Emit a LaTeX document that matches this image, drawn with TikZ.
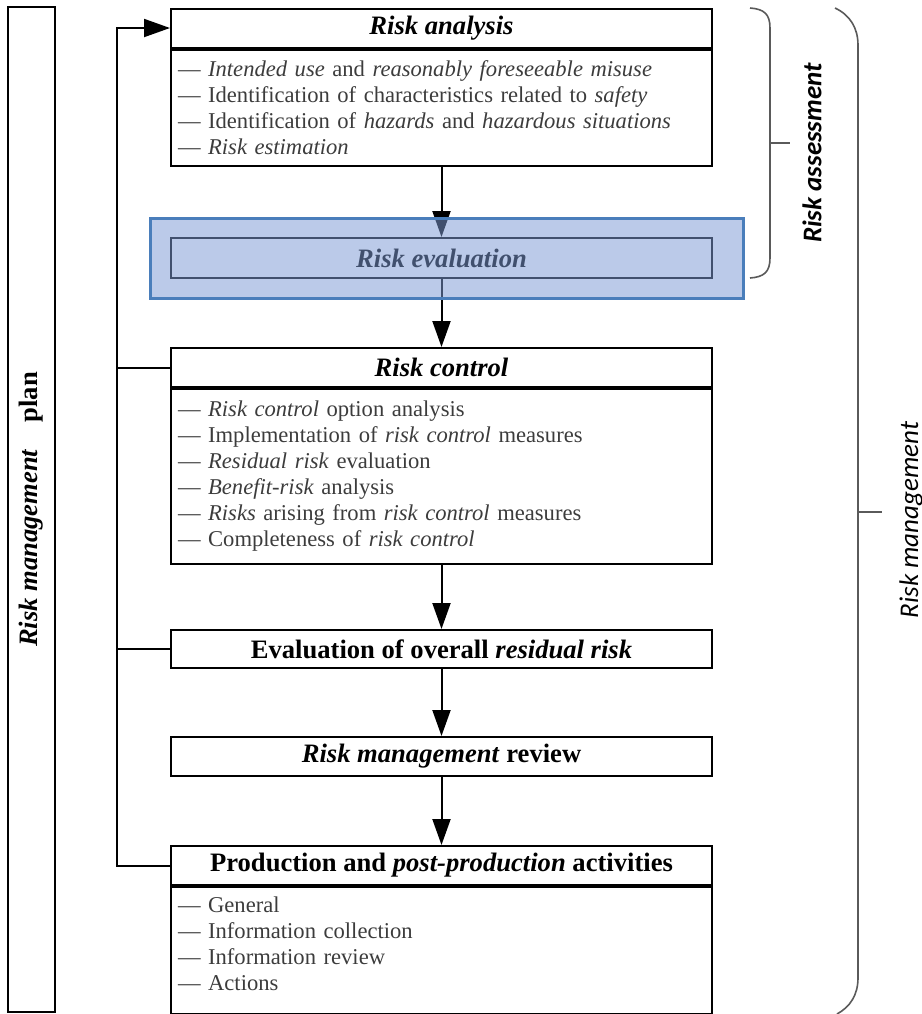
\documentclass[tikz,border=0pt]{standalone}
\usepackage{fontspec}
\setmainfont{Liberation Serif}
\newfontfamily\bracefont{Carlito}
\usetikzlibrary{arrows.meta}

\definecolor{itemgray}{HTML}{3C3C3C}
\definecolor{bracegray}{HTML}{5A5A5A}
\definecolor{hlfill}{RGB}{125,154,212}
\definecolor{hlborder}{HTML}{4A7EBB}

\newcommand\headsize{\fontsize{13.3}{15}\selectfont}
\newcommand\itemsize{\fontsize{11.3}{13}\selectfont}

\begin{document}
\begin{tikzpicture}[x=0.5pt, y=-0.5pt,
    boxhead/.style={draw, line width=1pt, minimum width=270.5pt, minimum height=19.5pt,
      inner sep=0pt, font=\headsize\bfseries},
    boxbody/.style={draw, line width=1pt, anchor=north, minimum width=270.5pt,
      text width=263.5pt, inner xsep=3.5pt, inner ysep=0pt, align=left,
      text=itemgray, font=\itemsize},
    flow/.style={line width=1pt, -{Triangle[length=13pt, width=9pt]}},
    brace/.style={line width=0.8pt, draw=bracegray},
  ]
  \useasboundingbox (0,0) rectangle (922,1014);

  % Plan column
  \node[draw, line width=1pt, rotate=90, minimum width=502.5pt, minimum height=23.5pt,
    font=\headsize\bfseries] (plan) at (31.5,509.5) {\textit{Risk management}\quad plan};

  % Main flow boxes
  \node[boxhead] (anahead) at (441.5,28) {\textit{Risk analysis}};
  \node[boxbody, minimum height=58pt] (anabody) at (anahead.south)
    {— \textit{Intended use} and \textit{reasonably foreseeable misuse}\\
     — Identification of characteristics related to \textit{safety}\\
     — Identification of \textit{hazards} and \textit{hazardous situations}\\
     — \textit{Risk estimation}};
  \node[boxhead, minimum height=20pt] (evalbox) at (441.5,258) {\textit{Risk evaluation}};
  \node[boxhead] (ctlhead) at (441.5,367.5) {\textit{Risk control}};
  \node[boxbody, minimum height=87.5pt] (ctlbody) at (ctlhead.south)
    {— \textit{Risk control} option analysis\\
     — Implementation of \textit{risk control} measures\\
     — \textit{Residual risk} evaluation\\
     — \textit{Benefit-risk} analysis\\
     — \textit{Risks} arising from \textit{risk control} measures\\
     — Completeness of \textit{risk control}};
  \node[boxhead, minimum height=19pt] (resbox) at (441.5,649) {Evaluation of overall \textit{residual risk}};
  \node[boxhead] (revbox) at (441.5,756.5) {\textit{Risk management} review};
  \node[boxhead] (prodhead) at (441.5,865.5) {Production and \textit{post-production} activities};
  \node[boxbody, minimum height=63.5pt] (prodbody) at (prodhead.south)
    {— General\\
     — Information collection\\
     — Information review\\
     — Actions\\[-6pt]\mbox{}};

  % Arrows down the flow
  \draw[flow] (anabody.south) -- (evalbox.north);
  \draw[flow] (evalbox.south) -- (ctlhead.north);
  \draw[flow] (ctlbody.south) -- (resbox.north);
  \draw[flow] (resbox.south) -- (revbox.north);
  \draw[flow] (revbox.south) -- (prodhead.north);

  % Feedback line
  \coordinate (fbtop) at (116.5,28);
  \coordinate (fbbot) at (116.5,865.5);
  \draw[flow] (prodhead.west) -- (fbbot) -- (fbtop) -- (anahead.west);
  \draw[line width=1pt] (ctlhead.west) -- (ctlhead.west -| fbtop);
  \draw[line width=1pt] (resbox.west) -- (resbox.west -| fbtop);

  % Highlight over risk evaluation
  \node[draw=hlborder, line width=1.5pt, fill=hlfill, fill opacity=0.52,
    minimum width=296.5pt, minimum height=40pt, inner sep=0pt] (hilite) at (446.5,258) {};

  % Braces
  \draw[brace] (750,8) .. controls (764,9) and (770,14) .. (770,28) -- (770,258)
    .. controls (770,272) and (764,277) .. (750,278);
  \draw[brace] (770,143) -- (790,143);
  \draw[brace] (835,8) .. controls (850,15) and (858,28) .. (858,45) -- (858,978)
    .. controls (858,995) and (850,1007) .. (837,1014);
  \draw[brace] (858,512) -- (882,512);
  \node[rotate=90, font=\bracefont\bfseries\itshape\fontsize{13.5}{14}\selectfont]
    (assesslabel) at (812,153) {Risk assessment};
  \node[rotate=90, font=\bracefont\itshape\fontsize{13.5}{14}\selectfont]
    (mgmtlabel) at (911,520) {Risk management};
\end{tikzpicture}
\end{document}
